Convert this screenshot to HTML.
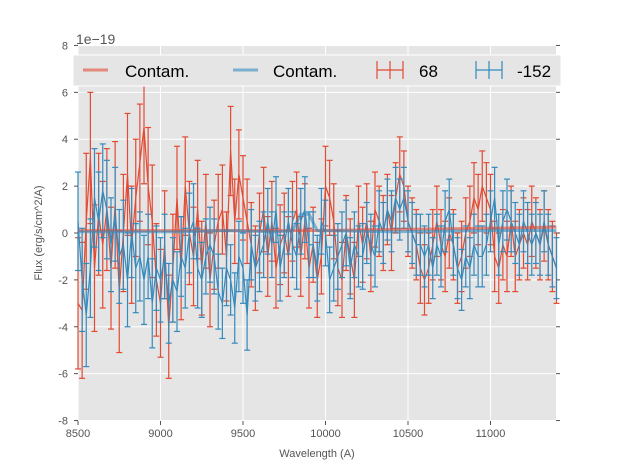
<!DOCTYPE html>
<html><head><meta charset="utf-8"><style>
body{margin:0;background:#fff;}
svg{display:block;font-family:"Liberation Sans","DejaVu Sans",sans-serif;}
</style></head><body>
<svg id="chart" width="617" height="467">
<rect x="78" y="46" width="478" height="375" fill="#e5e5e5"/>
<g id="grid"></g><g id="series"></g><g id="axes"></g>
<text x="76" y="44" font-size="14" fill="#555">1e−19</text>
<text x="317" y="457" font-size="11" fill="#555" text-anchor="middle">Wavelength (A)</text>
<text x="42" y="233" font-size="11" fill="#555" text-anchor="middle" transform="rotate(-90 42 233)">Flux (erg/s/cm^2/A)</text>
<g>
<rect x="73" y="55" width="488" height="31" fill="#e5e5e5" stroke="#fff" stroke-width="1"/>
<line x1="83" y1="70" x2="108" y2="70" stroke="#E24A33" stroke-opacity="0.6" stroke-width="3"/>
<text x="125" y="77" font-size="17" fill="#000">Contam.</text>
<line x1="233" y1="70" x2="258" y2="70" stroke="#348ABD" stroke-opacity="0.6" stroke-width="3"/>
<text x="273" y="77" font-size="17" fill="#000">Contam.</text>
<g stroke="#E24A33" stroke-width="1.2"><line x1="377" y1="70" x2="403" y2="70"/><line x1="390" y1="61" x2="390" y2="79"/><line x1="377" y1="61" x2="377" y2="79"/><line x1="403" y1="61" x2="403" y2="79"/></g>
<text x="419" y="77" font-size="17" fill="#000">68</text>
<g stroke="#348ABD" stroke-width="1.2"><line x1="476" y1="70" x2="502" y2="70"/><line x1="489" y1="61" x2="489" y2="79"/><line x1="476" y1="61" x2="476" y2="79"/><line x1="502" y1="61" x2="502" y2="79"/></g>
<text x="517" y="77" font-size="17" fill="#000">-152</text>
</g>
</svg>
<script>
const xTicks=[8500,9000,9500,10000,10500,11000];
const yTicks=[-8,-6,-4,-2,0,2,4,6,8];
const waveStart=8500, waveStep=25;
const red=[-3.0,-3.3,0.5,3.2,-1.5, 0.8,-0.5,1.0,-1.5,1.2, -2.5,0.0,2.5,-0.5,1.5, 3.0,4.5,2.0,0.5,-2.0,
-3.0,-0.5,-4.0,-1.5,1.5, -1.5,2.0,0.0,-1.0,1.0, -1.5,0.5,-2.0,-0.5,0.5, 1.0,-1.0,3.5,0.5,2.5,
1.5,0.5,-0.5,-1.5,0.0, 1.0,-1.0,0.5,-1.5,-0.5, 0.0,-1.0,0.5,1.0,-1.0, 0.5,-1.5,-0.5,-2.0,-1.0,
2.0,1.5,0.5,-1.5,-2.0, 0.0,-1.0,-2.0,0.5,-0.5, 0.5,-1.0,1.0,0.5,0.0, 1.0,0.0,1.5,2.5,2.0,
0.5,0.0,-0.5,-1.5,-2.0, -1.5,-0.5,0.5,-0.5,-1.0, 0.0,-0.5,-1.5,-1.0,0.0, 0.5,1.5,1.0,2.0,1.5,
1.0,-1.0,-1.5,-0.5,-1.0, 0.5,-1.0,-0.5,0.0,-0.5, 0.5,0.0,-0.5,0.3,-0.5, -1.0,-1.5];
const redErr=[2.8,2.9,2.9,2.8,2.7, 2.6,2.7,2.6,2.6,2.7, 2.6,2.5,2.6,2.5,2.5, 2.5,2.4,2.5,2.4,2.4,
2.3,2.3,2.2,2.3,2.2, 2.2,2.1,2.2,2.1,2.1, 2.0,2.0,2.0,1.9,2.0, 1.9,1.9,1.9,1.8,1.9,
1.8,1.8,1.8,1.8,1.7, 1.8,1.7,1.7,1.7,1.7, 1.7,1.7,1.7,1.6,1.7, 1.6,1.7,1.6,1.6,1.6,
1.7,1.6,1.6,1.6,1.6, 1.6,1.6,1.6,1.5,1.6, 1.6,1.5,1.6,1.5,1.6, 1.5,1.6,1.5,1.6,1.5,
1.5,1.5,1.5,1.5,1.5, 1.5,1.5,1.5,1.5,1.5, 1.5,1.5,1.5,1.5,1.5, 1.5,1.5,1.5,1.5,1.5,
1.5,1.5,1.5,1.5,1.5, 1.5,1.5,1.5,1.5,1.5, 1.5,1.5,1.5,1.5,1.5, 1.5,1.5];
const blue=[0.5,-2.0,-3.5,-1.5,1.5, 0.5,1.8,1.0,-0.5,0.8, -1.0,-0.5,-2.0,0.0,-1.5, -1.0,-2.0,-1.0,-3.0,-1.5,
-2.0,-1.0,-3.0,-2.0,-2.5, -1.0,-1.5,0.0,0.5,-1.5, -2.0,-1.0,-0.5,-1.0,-2.5, -3.0,-1.5,-2.0,-3.2,-1.0,
-1.5,-3.5,-0.5,-1.5,-1.0, -0.5,0.5,-0.5,1.0,-1.5, -0.5,0.5,-0.5,-1.0,0.5, 1.0,-0.5,-0.5,-1.5,0.5,
0.0,-2.0,-1.5,-1.0,-0.5, 0.0,-1.5,-0.5,-1.0,-1.0, 0.0,-0.5,-1.0,0.5,0.0, 1.0,0.5,1.5,1.0,1.5,
0.5,0.0,-0.5,-0.5,-1.0, -0.5,-1.5,-0.5,-1.0,0.5, 1.0,-0.5,-1.5,-2.0,-1.0, -1.5,-0.5,-1.0,-1.0,-0.5,
0.5,1.5,-0.5,0.5,1.0, 0.5,0.0,-0.5,0.5,0.0, -0.5,0.0,-0.5,0.5,-0.5, -1.0,-1.5];
const blueErr=[2.1,2.2,2.2,2.1,2.1, 2.1,2.0,2.1,2.0,2.0, 2.0,1.9,2.0,1.9,1.9, 1.9,1.9,1.8,1.9,1.8,
1.8,1.8,1.7,1.8,1.7, 1.7,1.7,1.7,1.6,1.7, 1.6,1.6,1.6,1.6,1.6, 1.5,1.6,1.5,1.5,1.5,
1.5,1.5,1.5,1.4,1.5, 1.4,1.4,1.4,1.4,1.4, 1.4,1.4,1.4,1.4,1.4, 1.4,1.4,1.4,1.4,1.4,
1.4,1.4,1.4,1.4,1.4, 1.4,1.3,1.4,1.3,1.4, 1.3,1.3,1.3,1.3,1.3, 1.3,1.3,1.3,1.3,1.3,
1.3,1.3,1.3,1.3,1.3, 1.3,1.3,1.3,1.3,1.3, 1.3,1.3,1.3,1.3,1.3, 1.3,1.3,1.3,1.3,1.3,
1.3,1.3,1.3,1.3,1.3, 1.3,1.3,1.3,1.3,1.3, 1.3,1.3,1.3,1.3,1.3, 1.3,1.3];
const contamWave=[8500,8800,9100,9400,9700,9800,9850,9900,9950,10400,11000,11400];
const contamRed=[0.1,0.1,0.1,0.1,0.1,0.1,0.1,0.1,0.1,0.15,0.2,0.25];
const contamBlue=[0.05,0.05,0.05,0.1,0.05,0.1,0.8,0.8,0.1,0.05,0.1,0.1];
const X=v=>78+(v-8500)*0.165;
const Y=v=>233-v*23.44;
const NS='http://www.w3.org/2000/svg';
function mk(t,a,p){const e=document.createElementNS(NS,t);for(const k in a)e.setAttribute(k,a[k]);p.appendChild(e);return e;}
const grid=document.getElementById('grid'),axes=document.getElementById('axes'),ser=document.getElementById('series');
xTicks.forEach(t=>{
 const g=mk('line',{x1:X(t),x2:X(t),y1:46,y2:421,stroke:'#fff','stroke-width':1},grid);
 
 
 mk('line',{x1:X(t),x2:X(t),y1:421,y2:425,stroke:'#555'},axes);
 const l=mk('text',{x:X(t),y:437,'font-size':11,fill:'#555','text-anchor':'middle'},axes);l.textContent=t;
 
 
});
yTicks.forEach(t=>{
 const g=mk('line',{x1:78,x2:556,y1:Y(t),y2:Y(t),stroke:'#fff','stroke-width':1},grid);
 
 
 mk('line',{x1:74,x2:78,y1:Y(t),y2:Y(t),stroke:'#555'},axes);
 mk('line',{x1:556,x2:560,y1:Y(t),y2:Y(t),stroke:'#555'},axes);
 const l=mk('text',{x:68,y:Y(t)+4,'font-size':11,fill:'#555','text-anchor':'end'},axes);l.textContent=t;
 
 
});
function errSeries(vals,errs,col,name){
 const g=mk('g',{stroke:col,'stroke-width':1.2,fill:'none'},ser);
 
 
 const wx=i=>X(waveStart+i*waveStep);
 mk('polyline',{points:vals.map((v,i)=>wx(i)+','+Y(v)).join(' ')},g);
 vals.forEach((v,i)=>{const x=wx(i),a=Y(v+errs[i]),b=Y(v-errs[i]);
  mk('line',{x1:x,x2:x,y1:a,y2:b},g);
  mk('line',{x1:x-3,x2:x+3,y1:a,y2:a},g);
  mk('line',{x1:x-3,x2:x+3,y1:b,y2:b},g);});
}
errSeries(red,redErr,'#E24A33','series-68');
errSeries(blue,blueErr,'#348ABD','series-neg152');
const c1=mk('polyline',{points:contamWave.map((w,i)=>X(w)+','+Y(contamRed[i])).join(' '),stroke:'#E24A33','stroke-opacity':0.6,'stroke-width':3,fill:'none'},ser);


const c2=mk('polyline',{points:contamWave.map((w,i)=>X(w)+','+Y(contamBlue[i])).join(' '),stroke:'#348ABD','stroke-opacity':0.6,'stroke-width':3,fill:'none'},ser);


</script>
</body></html>
